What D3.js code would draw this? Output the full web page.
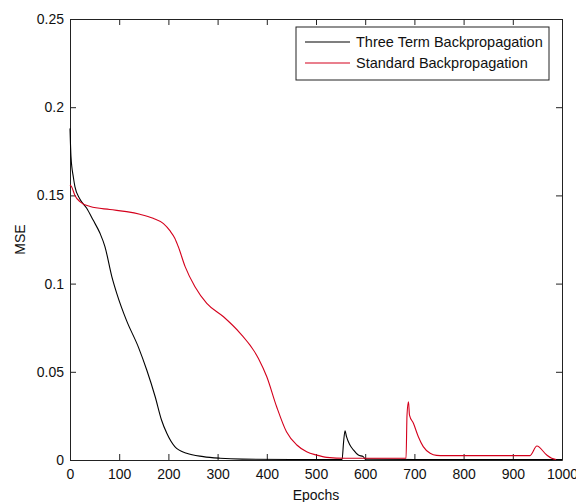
<!DOCTYPE html>
<html>
<head>
<meta charset="utf-8">
<script src="https://cdn.jsdelivr.net/npm/d3@7"></script>
<style>
  body { margin: 0; background: #fff; }
  #chart text { font-family: "Liberation Sans", Arial, sans-serif; fill: #111; }
</style>
</head>
<body>
<div id="chart"></div>
<script>
const kWidth = 576;
const kHeight = 502;
const kMargin = {left: 70, right: 14, top: 19, bottom: 42};

// epochs / MSE
const threeTermEpochs = [0, 2, 7, 10, 20, 34, 47, 61, 71, 85, 95, 115, 139, 156, 173, 186, 197, 213, 237, 271, 305, 350, 450, 553, 556, 559, 562, 569, 576, 586, 596, 600, 700, 1000];
const threeTermMse = [0.188, 0.172, 0.160, 0.155, 0.148, 0.1427, 0.136, 0.1285, 0.121, 0.104, 0.0945, 0.079, 0.064, 0.051, 0.036, 0.0227, 0.015, 0.0076, 0.0038, 0.0019, 0.001, 0.0005, 0.0003, 0.0003, 0.010, 0.0166, 0.0132, 0.0085, 0.0057, 0.0028, 0.0019, 0.0005, 0.0003, 0.0003];

const standardEpochs = [0, 3, 10, 20, 41, 81, 115, 142, 169, 190, 203, 213, 220, 234, 254, 278, 312, 346, 383, 400, 420, 440, 461, 481, 501, 522, 560, 683, 685, 688, 690, 698, 708, 718, 732, 745, 760, 935, 949, 969, 979, 988];
const standardMse = [0.156, 0.155, 0.150, 0.1465, 0.1437, 0.142, 0.1408, 0.1393, 0.137, 0.134, 0.130, 0.1257, 0.121, 0.1096, 0.0982, 0.0888, 0.0812, 0.0718, 0.0576, 0.0472, 0.0302, 0.016, 0.0085, 0.0047, 0.0028, 0.0015, 0.001, 0.001, 0.0255, 0.033, 0.0255, 0.0208, 0.0132, 0.0076, 0.0038, 0.0026, 0.0025, 0.0025, 0.0079, 0.0028, 0.001, 0.0003];

const xTicks = [0, 100, 200, 300, 400, 500, 600, 700, 800, 900, 1000];
const yTicks = [0, 0.05, 0.1, 0.15, 0.2, 0.25];
const seriesNames = ["Three Term Backpropagation", "Standard Backpropagation"];
const seriesColors = ["#000000", "#d4001c"];

function createSvg()
{
  return d3.select("#chart")
    .append("svg")
    .attr("width", kWidth)
    .attr("height", kHeight);
}

function drawChart(svg)
{
  const x = d3.scaleLinear()
    .domain([0, 1000])
    .range([kMargin.left, kWidth - kMargin.right]);
  const y = d3.scaleLinear()
    .domain([0, 0.25])
    .range([kHeight - kMargin.bottom, kMargin.top]);

  const fmt = d => String(+d.toFixed(2));

  // bottom / left with labels, top / right ticks only (all inward)
  const gx = svg.append("g")
    .attr("transform", `translate(0, ${y(0)})`)
    .call(d3.axisBottom(x).tickValues(xTicks).tickFormat(fmt).tickSizeInner(-6).tickSizeOuter(0).tickPadding(9));
  const gy = svg.append("g")
    .attr("transform", `translate(${x(0)}, 0)`)
    .call(d3.axisLeft(y).tickValues(yTicks).tickFormat(fmt).tickSizeInner(-6).tickSizeOuter(0).tickPadding(6));
  const gt = svg.append("g")
    .attr("transform", `translate(0, ${y(0.25)})`)
    .call(d3.axisTop(x).tickValues(xTicks).tickFormat("").tickSizeInner(-6).tickSizeOuter(0));
  const gr = svg.append("g")
    .attr("transform", `translate(${x(1000)}, 0)`)
    .call(d3.axisRight(y).tickValues(yTicks).tickFormat("").tickSizeInner(-6).tickSizeOuter(0));

  [gx, gy, gt, gr].forEach(g => {
    g.selectAll("path, line").attr("stroke", "#222").attr("stroke-width", 1);
    g.selectAll("text").style("font-size", "14px").attr("fill", "#111");
  });

  const line = d3.line()
    .x(d => x(d[0]))
    .y(d => y(d[1]))
    .curve(d3.curveMonotoneX);

  const series = [
    threeTermEpochs.map((e, i) => [e, threeTermMse[i]]),
    standardEpochs.map((e, i) => [e, standardMse[i]])
  ];

  svg.append("g")
    .selectAll("path")
    .data(series)
    .enter()
    .append("path")
    .attr("d", line)
    .attr("fill", "none")
    .attr("stroke", (d, i) => seriesColors[i])
    .attr("stroke-width", 1.1);

  // axis labels
  svg.append("text")
    .attr("x", (x(0) + x(1000)) / 2)
    .attr("y", 500)
    .attr("text-anchor", "middle")
    .style("font-size", "14px")
    .text("Epochs");

  svg.append("text")
    .attr("transform", `translate(25, ${(y(0) + y(0.25)) / 2}) rotate(-90)`)
    .attr("text-anchor", "middle")
    .style("font-size", "14px")
    .text("MSE");

  // legend
  const legend = svg.append("g").attr("transform", "translate(296, 27)");
  legend.append("rect")
    .attr("width", 253)
    .attr("height", 53)
    .attr("fill", "#fff")
    .attr("stroke", "#222");
  const rows = legend.selectAll("g.row")
    .data(seriesNames)
    .enter()
    .append("g")
    .attr("class", "row")
    .attr("transform", (d, i) => `translate(0, ${15 + i * 21})`);
  rows.append("line")
    .attr("x1", 9).attr("x2", 54)
    .attr("stroke", (d, i) => seriesColors[i])
    .attr("stroke-width", 1.1);
  rows.append("text")
    .attr("x", 60)
    .attr("dy", "0.35em")
    .style("font-size", "14.5px")
    .text(d => d);
}

document.addEventListener('DOMContentLoaded', () => {
  const svg = createSvg();
  drawChart(svg);
});
</script>
</body>
</html>
